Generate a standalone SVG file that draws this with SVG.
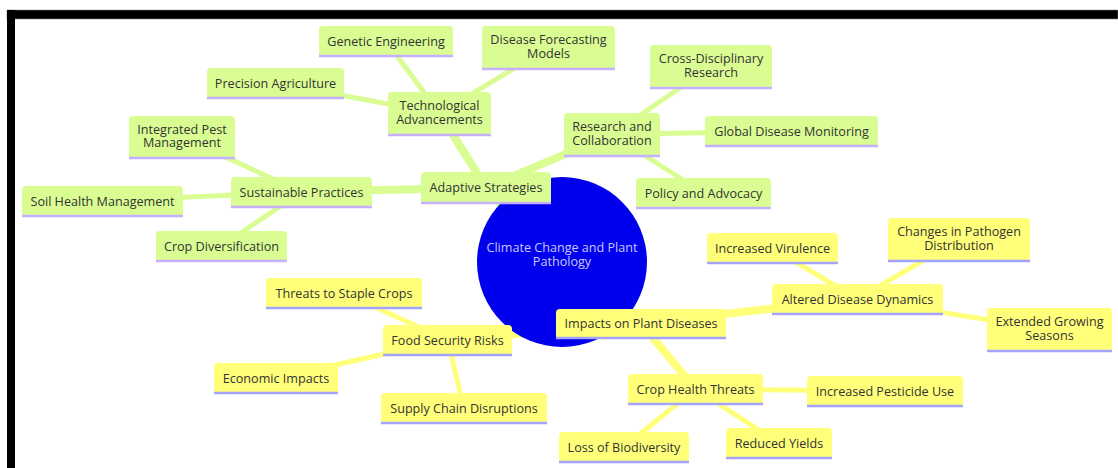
<svg xmlns="http://www.w3.org/2000/svg" width="1118" height="468" viewBox="0 0 1118 468">
<style>
.t{font-family:"Open Sans","Noto Sans","Liberation Sans",sans-serif;font-size:12.6px;fill:#333;text-anchor:middle}
.rt{font-family:"Open Sans","Noto Sans","Liberation Sans",sans-serif;font-size:12.6px;fill:#c8c8ff;text-anchor:middle}
.g{fill:#d9fd92}
.y{fill:#ffff7a}
.gl{stroke:#c6b0ff;stroke-width:2.4}
.yl{stroke:#a4a4ff;stroke-width:2.4}
.eg{stroke:#d9fd92;stroke-linecap:butt;fill:none}
.ey{stroke:#ffff7a;stroke-linecap:butt;fill:none}
.d0{stroke-width:11}
.d1{stroke-width:8}
.d2{stroke-width:5}
</style>
<rect x="0" y="0" width="1118" height="468" fill="#fff"/>
<g id="frame">
<rect x="7" y="10" width="1111" height="9" fill="#000" stroke="#888" stroke-width="0.6"/>
<rect x="7" y="10" width="8" height="458" fill="#000"/>
</g>
<g id="connectors">
<line class="eg d0" x1="562" y1="262" x2="486" y2="187.5"/>
<line class="ey d0" x1="562" y1="262" x2="641" y2="323.5"/>
<line class="eg d1" x1="486" y1="187.5" x2="439.5" y2="113.5"/>
<line class="eg d1" x1="486" y1="187.5" x2="612" y2="134.5"/>
<line class="eg d1" x1="486" y1="187.5" x2="301.5" y2="192"/>
<line class="eg d2" x1="439.5" y1="113.5" x2="386" y2="41"/>
<line class="eg d2" x1="439.5" y1="113.5" x2="548.5" y2="47.5"/>
<line class="eg d2" x1="439.5" y1="113.5" x2="275.5" y2="83"/>
<line class="eg d2" x1="612" y1="134.5" x2="711" y2="66.5"/>
<line class="eg d2" x1="612" y1="134.5" x2="791.5" y2="131"/>
<line class="eg d2" x1="612" y1="134.5" x2="703.5" y2="193"/>
<line class="eg d2" x1="301.5" y1="192" x2="182" y2="137"/>
<line class="eg d2" x1="301.5" y1="192" x2="102.5" y2="201"/>
<line class="eg d2" x1="301.5" y1="192" x2="221.5" y2="246"/>
<line class="ey d1" x1="641" y1="323.5" x2="857.5" y2="299"/>
<line class="ey d1" x1="641" y1="323.5" x2="695.5" y2="389"/>
<line class="ey d1" x1="641" y1="323.5" x2="447.5" y2="340"/>
<line class="ey d2" x1="857.5" y1="299" x2="772.5" y2="248"/>
<line class="ey d2" x1="857.5" y1="299" x2="959" y2="239.5"/>
<line class="ey d2" x1="857.5" y1="299" x2="1049.5" y2="329.5"/>
<line class="ey d2" x1="447.5" y1="340" x2="344" y2="293"/>
<line class="ey d2" x1="447.5" y1="340" x2="276" y2="378"/>
<line class="ey d2" x1="447.5" y1="340" x2="464" y2="408"/>
<line class="ey d2" x1="695.5" y1="389" x2="885" y2="391"/>
<line class="ey d2" x1="695.5" y1="389" x2="624" y2="447"/>
<line class="ey d2" x1="695.5" y1="389" x2="779" y2="443"/>
</g>
<g id="root">
<circle cx="562" cy="262" r="85" fill="#0000ec"/>
<text class="rt" x="562" y="252">Climate Change and Plant<tspan x="562" dy="14">Pathology</tspan></text>
</g>
<g id="n-genetic" transform="translate(319,26)"><path class="g" d="M0 30V4Q0 0 4 0H130Q134 0 134 4V30Z"/><line class="gl" x1="0" y1="30" x2="134" y2="30"/><text class="t" x="67" y="19.5">Genetic Engineering</text></g>
<g id="n-forecast" transform="translate(482,26)"><path class="g" d="M0 43V4Q0 0 4 0H129Q133 0 133 4V43Z"/><line class="gl" x1="0" y1="43" x2="133" y2="43"/><text class="t" x="66.5" y="18">Disease Forecasting<tspan x="66.5" dy="13.5">Models</tspan></text></g>
<g id="n-precision" transform="translate(207,68)"><path class="g" d="M0 30V4Q0 0 4 0H133Q137 0 137 4V30Z"/><line class="gl" x1="0" y1="30" x2="137" y2="30"/><text class="t" x="68.5" y="19.5">Precision Agriculture</text></g>
<g id="n-tech" transform="translate(388,92)"><path class="g" d="M0 43V4Q0 0 4 0H99Q103 0 103 4V43Z"/><line class="gl" x1="0" y1="43" x2="103" y2="43"/><text class="t" x="51.5" y="18">Technological<tspan x="51.5" dy="13.5">Advancements</tspan></text></g>
<g id="n-ipm" transform="translate(129,116)"><path class="g" d="M0 42V4Q0 0 4 0H102Q106 0 106 4V42Z"/><line class="gl" x1="0" y1="42" x2="106" y2="42"/><text class="t" x="53" y="17.5">Integrated Pest<tspan x="53" dy="13.5">Management</tspan></text></g>
<g id="n-cross" transform="translate(650,45)"><path class="g" d="M0 43V4Q0 0 4 0H118Q122 0 122 4V43Z"/><line class="gl" x1="0" y1="43" x2="122" y2="43"/><text class="t" x="61" y="18">Cross-Disciplinary<tspan x="61" dy="13.5">Research</tspan></text></g>
<g id="n-research" transform="translate(564,113)"><path class="g" d="M0 43V4Q0 0 4 0H92Q96 0 96 4V43Z"/><line class="gl" x1="0" y1="43" x2="96" y2="43"/><text class="t" x="48" y="18">Research and<tspan x="48" dy="13.5">Collaboration</tspan></text></g>
<g id="n-global" transform="translate(705,116)"><path class="g" d="M0 30V4Q0 0 4 0H169Q173 0 173 4V30Z"/><line class="gl" x1="0" y1="30" x2="173" y2="30"/><text class="t" x="86.5" y="19.5">Global Disease Monitoring</text></g>
<g id="n-sustainable" transform="translate(231,177)"><path class="g" d="M0 30V4Q0 0 4 0H137Q141 0 141 4V30Z"/><line class="gl" x1="0" y1="30" x2="141" y2="30"/><text class="t" x="70.5" y="19.5">Sustainable Practices</text></g>
<g id="n-soil" transform="translate(22,186)"><path class="g" d="M0 30V4Q0 0 4 0H157Q161 0 161 4V30Z"/><line class="gl" x1="0" y1="30" x2="161" y2="30"/><text class="t" x="80.5" y="19.5">Soil Health Management</text></g>
<g id="n-cropdiv" transform="translate(156,231)"><path class="g" d="M0 30V4Q0 0 4 0H127Q131 0 131 4V30Z"/><line class="gl" x1="0" y1="30" x2="131" y2="30"/><text class="t" x="65.5" y="19.5">Crop Diversification</text></g>
<g id="n-adaptive" transform="translate(421,172)"><path class="g" d="M0 31V4Q0 0 4 0H126Q130 0 130 4V31Z"/><line class="gl" x1="0" y1="31" x2="130" y2="31"/><text class="t" x="65" y="19.5">Adaptive Strategies</text></g>
<g id="n-policy" transform="translate(636,178)"><path class="g" d="M0 30V4Q0 0 4 0H131Q135 0 135 4V30Z"/><line class="gl" x1="0" y1="30" x2="135" y2="30"/><text class="t" x="67.5" y="19.5">Policy and Advocacy</text></g>
<g id="n-virulence" transform="translate(707,233)"><path class="y" d="M0 30V4Q0 0 4 0H127Q131 0 131 4V30Z"/><line class="yl" x1="0" y1="30" x2="131" y2="30"/><text class="t" x="65.5" y="19.5">Increased Virulence</text></g>
<g id="n-pathogen" transform="translate(888,218)"><path class="y" d="M0 43V4Q0 0 4 0H138Q142 0 142 4V43Z"/><line class="yl" x1="0" y1="43" x2="142" y2="43"/><text class="t" x="71" y="18">Changes in Pathogen<tspan x="71" dy="13.5">Distribution</tspan></text></g>
<g id="n-altered" transform="translate(772,284)"><path class="y" d="M0 30V4Q0 0 4 0H167Q171 0 171 4V30Z"/><line class="yl" x1="0" y1="30" x2="171" y2="30"/><text class="t" x="85.5" y="19.5">Altered Disease Dynamics</text></g>
<g id="n-extended" transform="translate(987,308)"><path class="y" d="M0 43V4Q0 0 4 0H121Q125 0 125 4V43Z"/><line class="yl" x1="0" y1="43" x2="125" y2="43"/><text class="t" x="62.5" y="18">Extended Growing<tspan x="62.5" dy="13.5">Seasons</tspan></text></g>
<g id="n-staple" transform="translate(266,278)"><path class="y" d="M0 30V4Q0 0 4 0H152Q156 0 156 4V30Z"/><line class="yl" x1="0" y1="30" x2="156" y2="30"/><text class="t" x="78" y="19.5">Threats to Staple Crops</text></g>
<g id="n-food" transform="translate(383,325)"><path class="y" d="M0 30V4Q0 0 4 0H125Q129 0 129 4V30Z"/><line class="yl" x1="0" y1="30" x2="129" y2="30"/><text class="t" x="64.5" y="19.5">Food Security Risks</text></g>
<g id="n-economic" transform="translate(214,363)"><path class="y" d="M0 30V4Q0 0 4 0H120Q124 0 124 4V30Z"/><line class="yl" x1="0" y1="30" x2="124" y2="30"/><text class="t" x="62" y="19.5">Economic Impacts</text></g>
<g id="n-supply" transform="translate(381,393)"><path class="y" d="M0 30V4Q0 0 4 0H162Q166 0 166 4V30Z"/><line class="yl" x1="0" y1="30" x2="166" y2="30"/><text class="t" x="83" y="19.5">Supply Chain Disruptions</text></g>
<g id="n-impacts" transform="translate(556,309)"><path class="y" d="M0 29V4Q0 0 4 0H166Q170 0 170 4V29Z"/><line class="yl" x1="0" y1="29" x2="170" y2="29"/><text class="t" x="85" y="19">Impacts on Plant Diseases</text></g>
<g id="n-crophealth" transform="translate(628,374)"><path class="y" d="M0 30V4Q0 0 4 0H131Q135 0 135 4V30Z"/><line class="yl" x1="0" y1="30" x2="135" y2="30"/><text class="t" x="67.5" y="19.5">Crop Health Threats</text></g>
<g id="n-pesticide" transform="translate(807,376)"><path class="y" d="M0 30V4Q0 0 4 0H152Q156 0 156 4V30Z"/><line class="yl" x1="0" y1="30" x2="156" y2="30"/><text class="t" x="78" y="19.5">Increased Pesticide Use</text></g>
<g id="n-biodiversity" transform="translate(559,432)"><path class="y" d="M0 30V4Q0 0 4 0H126Q130 0 130 4V30Z"/><line class="yl" x1="0" y1="30" x2="130" y2="30"/><text class="t" x="65" y="19.5">Loss of Biodiversity</text></g>
<g id="n-yields" transform="translate(726,428)"><path class="y" d="M0 30V4Q0 0 4 0H102Q106 0 106 4V30Z"/><line class="yl" x1="0" y1="30" x2="106" y2="30"/><text class="t" x="53" y="19.5">Reduced Yields</text></g>
</svg>
